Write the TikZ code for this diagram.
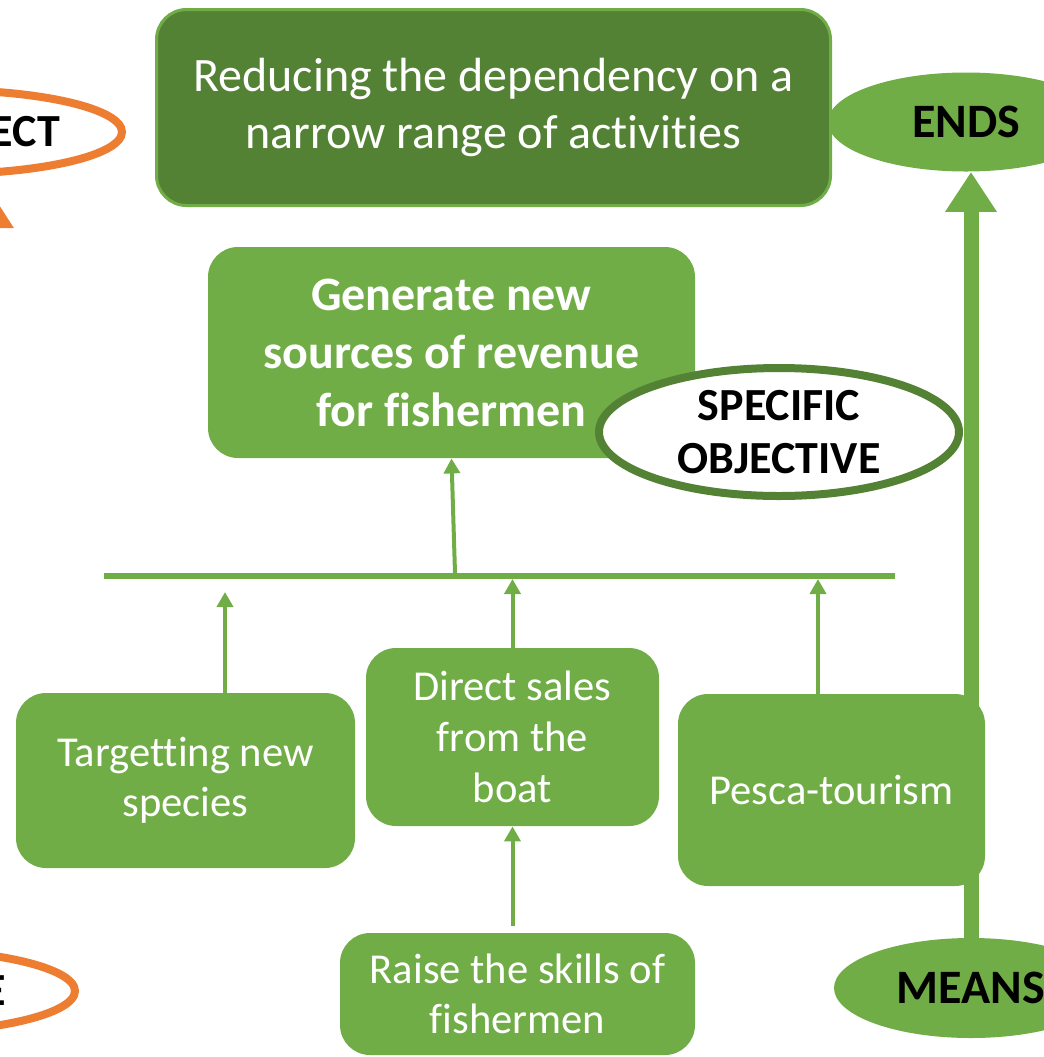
\documentclass[tikz,border=0pt]{standalone}
\usepackage{fontspec}
\setmainfont{Carlito}[Ligatures=CommonOff]
\usetikzlibrary{shapes.geometric,arrows.meta}
\definecolor{leaf}{HTML}{70AD47}
\definecolor{moss}{HTML}{548235}
\definecolor{rust}{HTML}{ED7D31}
\tikzset{
  box/.style={rectangle, rounded corners=15pt, fill=leaf, text=white, align=center, inner sep=0pt},
  oval/.style={ellipse, inner sep=0pt, align=center, text=black, font=\bfseries\fontsize{23pt}{26.5pt}\selectfont},
  arr/.style={draw=leaf, line width=2pt, -{Triangle[width=8pt,length=7.5pt]}},
  bigarr/.style={line width=7.5pt, -{Triangle[width=24.5pt,length=20pt]}}
}
\begin{document}
\begin{tikzpicture}[x=0.5pt,y=-0.5pt]
\useasboundingbox (0,0) rectangle (1044,1057);
% ends and means
\node[oval, fill=leaf, minimum width=138pt, minimum height=49.5pt, font=\bfseries\fontsize{24pt}{28pt}\selectfont] (ends) at (966,122) {ENDS};
\node[oval, fill=leaf, minimum width=137pt, minimum height=50pt, font=\bfseries\fontsize{24pt}{28pt}\selectfont] (means) at (971,988) {MEANS};
\draw[leaf, bigarr] (means.north) -- (means.north |- ends.south);

% left side
\node[oval, draw=rust, fill=white, line width=4pt, minimum width=180pt, minimum height=42pt, text width=118pt, align=right] (effect) at (-58,132) {ECT};
\node[oval, draw=rust, fill=white, line width=4pt, minimum width=180pt, minimum height=42pt, text width=111pt, align=right] (cause) at (-105,991) {E};
\coordinate (tip) at (-4,200);
\draw[rust, line width=3pt, -{Triangle[width=17pt,length=14pt]}] (cause.north -| tip) -- (tip);

\node[box, fill=moss, draw=leaf, line width=1.5pt, minimum width=337pt, minimum height=98pt, font=\fontsize{24pt}{28.5pt}\selectfont] (goal) at (493.5,107.5) {Reducing the dependency on a\\narrow range of activities};

\node[box, minimum width=243.5pt, minimum height=105.5pt, font=\bfseries\fontsize{24pt}{29pt}\selectfont] (revenue) at (451.5,352.5) {Generate new\\sources of revenue\\for fishermen};
\node[oval, fill=white, draw=moss, line width=4pt, minimum width=180pt, minimum height=64pt] (specific) at (779,432) {SPECIFIC\\OBJECTIVE};

\coordinate (barL) at (104,576);
\coordinate (barR) at (895,576);
\draw[leaf, line width=3pt] (barL) -- (barR);

\node[box, minimum width=169.5pt, minimum height=87.5pt, font=\fontsize{21.3pt}{25pt}\selectfont] (species) at (185.5,780.5) {Targetting new\\species};
\node[box, minimum width=146.5pt, minimum height=89pt, font=\fontsize{21.3pt}{25.5pt}\selectfont] (sales) at (512.5,737) {Direct sales\\from the\\boat};
\node[box, minimum width=153.5pt, minimum height=96pt, font=\fontsize{21.3pt}{25pt}\selectfont] (tourism) at (831.5,790) {Pesca-tourism};
\node[box, minimum width=177.5pt, minimum height=61pt, font=\fontsize{21.3pt}{25pt}\selectfont] (skills) at (517.5,994) {Raise the skills of\\fishermen};

% arrows
\coordinate (s1) at (225,592);
\coordinate (s2) at (513,579);
\coordinate (s3) at (818,579);
\coordinate (up) at (455,573);
\draw[arr] (species.north -| s1) -- (s1);
\draw[arr] (sales.north) -- (sales.north |- s2);
\draw[arr] (tourism.north -| s3) -- (s3);
\draw[arr] (up) -- (revenue.south);
\draw[arr, shorten <=3.5pt] (skills.north -| sales.south) -- (sales.south);

\end{tikzpicture}
\end{document}
